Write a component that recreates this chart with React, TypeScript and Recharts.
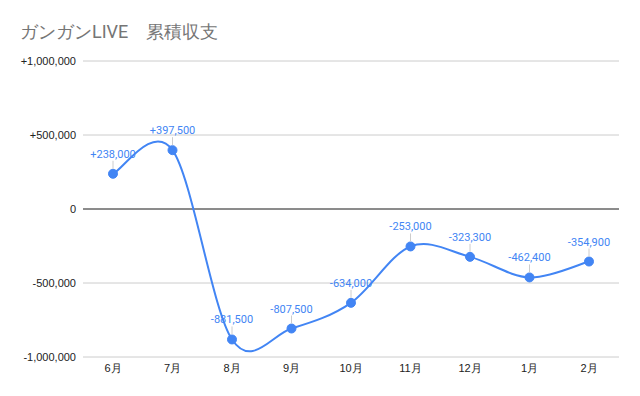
import React from "react";
import { LineChart, Line, XAxis, YAxis, CartesianGrid, ReferenceLine } from "recharts";

const months = ["6月", "7月", "8月", "9月", "10月", "11月", "12月", "1月", "2月"];
const balance = [238000, 397500, -881500, -807500, -634000, -253000, -323300, -462400, -354900];
const yTicks = [-1000000, -500000, 0, 500000, 1000000];

const data = months.map((m, i) => ({ month: m, value: balance[i] }));

const fmt = (v: number) => (v > 0 ? "+" : "") + v.toLocaleString("en-US");

const catmullRom: any = (context: any) => {
  let pts: number[][] = [];
  return {
    areaStart() {},
    areaEnd() {},
    lineStart() {
      pts = [];
    },
    point(x: number, y: number) {
      pts.push([+x, +y]);
    },
    lineEnd() {
      if (!pts.length) return;
      context.moveTo(pts[0][0], pts[0][1]);
      for (let i = 0; i < pts.length - 1; i++) {
        const p0 = pts[i - 1] || pts[i];
        const p1 = pts[i];
        const p2 = pts[i + 1];
        const p3 = pts[i + 2] || pts[i + 1];
        context.bezierCurveTo(
          p1[0] + (p2[0] - p0[0]) / 6,
          p1[1] + (p2[1] - p0[1]) / 6,
          p2[0] - (p3[0] - p1[0]) / 6,
          p2[1] - (p3[1] - p1[1]) / 6,
          p2[0],
          p2[1]
        );
      }
    },
  };
};

const ValueLabel = (props: any) => {
  const { x, y, value } = props;
  return (
    <g>
      <line x1={x} x2={x} y1={y - 13} y2={y - 5} stroke="#cccccc" strokeWidth={1} />
      <text x={x} y={y - 16} textAnchor="middle" fontSize={11} fill="#4285F4" fontFamily="Roboto, Arial, sans-serif">
        {fmt(value)}
      </text>
    </g>
  );
};

const tickStyle = { fontSize: 11, fill: "#222", fontFamily: "'Liberation Sans', Arial, sans-serif" };

export default function App() {
  return (
    <div style={{ position: "absolute", left: 0, top: 0, width: 640, height: 396, background: "#fff" }}>
      <div style={{ position: "absolute", left: 20, top: 20, fontSize: 18, color: "#757575", fontFamily: "Roboto, Arial, sans-serif", whiteSpace: "pre" }}>
        ガンガンLIVE　累積収支
      </div>
      <LineChart width={640} height={396} data={data} margin={{ top: 61, right: 21, bottom: 0, left: 0 }}>
        <CartesianGrid vertical={false} stroke="#cccccc" />
        <XAxis
          dataKey="month"
          height={39}
          padding={{ left: 30, right: 30 }}
          axisLine={false}
          tickLine={false}
          tick={tickStyle}
          tickMargin={1}
        />
        <YAxis
          width={83}
          domain={[-1000000, 1000000]}
          ticks={yTicks}
          tickFormatter={fmt}
          axisLine={false}
          tickLine={false}
          tick={tickStyle}
          tickMargin={1}
        />
        <ReferenceLine y={0} stroke="#333" />
        <Line
          type={catmullRom}
          dataKey="value"
          stroke="#4285F4"
          strokeWidth={2}
          dot={{ r: 4.5, fill: "#4285F4", stroke: "#4285F4", strokeWidth: 1 }}
          label={<ValueLabel />}
          isAnimationActive={false}
        />
      </LineChart>
    </div>
  );
}
